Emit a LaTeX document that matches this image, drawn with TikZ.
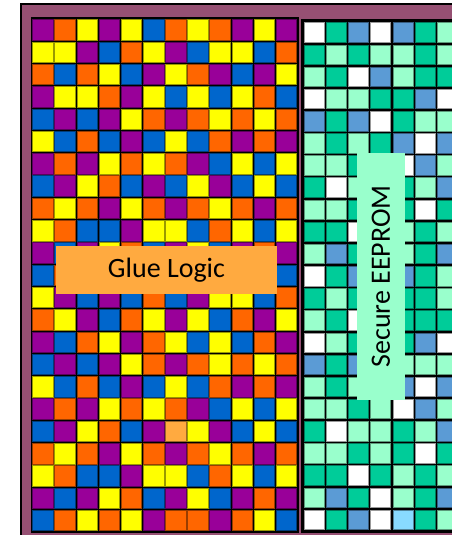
\documentclass[tikz,border=0pt]{standalone}
\usepackage{fontspec}
\setmainfont{Carlito}
\definecolor{frame}{RGB}{150,80,115}
\definecolor{cellP}{RGB}{153,0,153}
\definecolor{cellO}{RGB}{255,102,0}
\definecolor{cellY}{RGB}{255,255,0}
\definecolor{cellB}{RGB}{0,102,204}
\definecolor{cellL}{RGB}{255,170,64}
\definecolor{cellT}{RGB}{0,204,153}
\definecolor{cellG}{RGB}{153,255,204}
\definecolor{cellW}{RGB}{255,255,255}
\definecolor{cellS}{RGB}{91,155,213}
\definecolor{cellC}{RGB}{136,218,255}

\begin{document}
\begin{tikzpicture}[x=1pt,y=-1pt,
  cell/.style={line width=0.8pt},
  blocklabel/.style={inner sep=0pt, font=\fontsize{28}{32}\selectfont, text=black}]
  \useasboundingbox (0,0) rectangle (452,535);
  \clip (0,0) rectangle (452,535);
  \filldraw[fill=frame, draw=black, line width=2pt] (21,4) rectangle (480,560);
  \fill[black] (30.5,17) rectangle (298.7,533);
  \fill[black] (301.3,19.3) rectangle (480,533);
  \foreach \row [count=\r from 0] in {
      {P,O,Y,P,Y,B,O,Y,O,P,Y,P},{Y,Y,P,B,O,Y,P,B,Y,Y,B,O},{O,B,O,Y,B,P,Y,O,P,B,P,Y},
      {P,Y,Y,O,P,Y,B,Y,B,Y,O,B},{B,P,B,P,Y,O,P,O,Y,O,Y,O},{Y,B,O,B,P,B,Y,B,O,P,O,P},
      {P,O,P,Y,O,Y,O,P,B,Y,B,Y},{B,P,Y,O,B,P,B,Y,P,B,Y,B},{O,Y,O,P,Y,O,P,O,Y,O,P,O},
      {Y,O,B,B,P,Y,Y,B,O,Y,B,Y},{P,B,P,Y,O,B,P,Y,B,P,O,P},{B,O,Y,O,Y,P,O,O,P,O,Y,B},
      {Y,P,B,P,B,O,B,P,Y,Y,B,O},{O,Y,P,B,O,Y,P,Y,B,O,P,Y},{P,B,O,Y,P,O,Y,B,Y,B,O,P},
      {B,P,B,P,Y,O,P,O,Y,O,Y,O},{Y,B,O,B,P,B,Y,B,O,P,O,P},{P,O,P,Y,O,Y,O,P,B,Y,B,Y},
      {B,P,Y,O,B,P,L,Y,P,B,Y,B},{O,Y,O,P,Y,O,P,O,Y,O,P,O},{Y,O,B,B,P,Y,Y,B,O,Y,B,Y},
      {P,B,P,Y,O,B,P,Y,B,P,O,P},{B,O,Y,O,Y,P,O,O,P,O,Y,B}}
    \foreach \k [count=\c from 0] in \row
      \filldraw[cell, fill=cell\k, draw=cell\k!60!black]
        ({32.75+22.14*\c},{19.75+22.3*\r}) rectangle ++(20.5,20.5);
  \foreach \row [count=\r from 0] in {
      {W,T,S,W,S,T,G},{T,G,T,G,G,T,G},{G,T,W,S,G,T,T},{W,G,G,T,T,S,W},
      {S,T,S,W,T,G,G},{G,T,G,T,S,W,S},{G,G,T,G,W,S,G},{T,W,G,G,T,G,S},
      {G,G,T,G,T,W,T},{T,T,W,T,G,T,G},{G,S,T,W,G,T,S},{W,T,S,W,S,T,G},
      {T,G,T,G,T,T,G},{G,T,W,G,T,T,T},{W,G,T,G,T,S,W},{S,T,S,G,G,G,G},
      {G,T,G,G,S,W,S},{G,G,T,G,W,S,G},{T,W,G,G,T,G,S},{G,G,T,G,T,W,T},
      {T,T,W,T,G,T,G},{G,S,T,W,G,T,S},{W,T,S,W,C,T,G}}
    \foreach \k [count=\c from 0] in \row
      \filldraw[cell, fill=cell\k, draw=cell\k!60!black]
        ({304+22.26*\c},{22.8+22.15*\r}) rectangle ++(20,19.5);
  \node[blocklabel, fill=cellL, minimum width=221pt, minimum height=48pt] (glue) at (166.5,270) {Glue Logic};
  \node[blocklabel, fill=cellG, rotate=90, minimum width=247pt, minimum height=48pt] (eeprom) at (381,276.5) {Secure EEPROM};
\end{tikzpicture}
\end{document}
